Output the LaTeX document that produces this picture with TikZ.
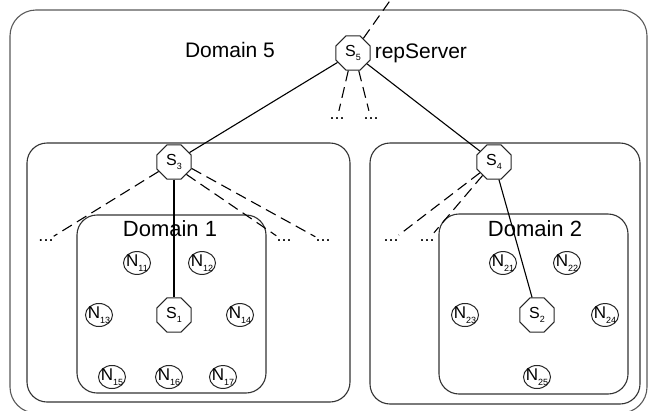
\documentclass[tikz,border=0pt]{standalone}
\usepackage{fontspec}
\setmainfont{Liberation Sans}
\usetikzlibrary{positioning,shapes.geometric}
\newcommand\nsub[1]{\raisebox{-0.5ex}{\fontsize{9}{9}\selectfont #1}}

\begin{document}
\begin{tikzpicture}[
    x=1pt, y=-1pt,
    server/.style={regular polygon, regular polygon sides=8, draw=black!85, fill=white, line width=1pt, minimum size=37pt, inner sep=0pt, font=\fontsize{16}{16}\selectfont},
    peer/.style={ellipse, draw=black!85, fill=white, line width=1pt, minimum width=27pt, minimum height=22pt, inner sep=0pt, font=\fontsize{17}{17}\selectfont},
    region/.style={draw=black!80, line width=1.1pt, rounded corners=20pt},
    title/.style={font=\fontsize{21}{21}\selectfont, inner sep=0pt},
    more/.style={font=\fontsize{18}{18}\selectfont, inner sep=0pt, minimum height=16pt},
    link/.style={draw=black, line width=1.1pt},
    spare/.style={link, dash pattern=on 11pt off 6pt}
]
\useasboundingbox (0,0) rectangle (651,410);
\clip (0,0) rectangle (651,410);

% domains
\draw[region, draw=black!65, rounded corners=26pt] (10,10) rectangle (647,413);
\draw[region] (27,143) rectangle (350,402);
\draw[region] (370,143) rectangle (640,404);
\draw[region] (77,215) rectangle (266,393);
\draw[region] (439,214) rectangle (628,394);

\node[title] (dom5) at (230,50) {Domain 5};
\node[title, font=\fontsize{22}{22}\selectfont] (dom1) at (170,229) {Domain 1};
\node[title, font=\fontsize{22}{22}\selectfont] (dom2) at (535,229) {Domain 2};

% servers
\node[server] (S5) at (353,53) {\makebox[0pt]{S\nsub{5}}};
\node[title, right=4pt of S5] (rep) {repServer};
\node[server] (S3) at (174,162) {\makebox[0pt]{S\nsub{3}}};
\node[server] (S4) at (494,162) {\makebox[0pt]{S\nsub{4}}};
\node[server] (S1) at (174,315) {\makebox[0pt]{S\nsub{1}}};
\node[server] (S2) at (537,315) {\makebox[0pt]{S\nsub{2}}};

% nodes of domain 1
\node[peer] (N11) at (137,263) {\makebox[0pt]{N\nsub{11}}};
\node[peer] (N12) at (202,263) {\makebox[0pt]{N\nsub{12}}};
\node[peer] (N13) at (99,315) {\makebox[0pt]{N\nsub{13}}};
\node[peer] (N14) at (240,315) {\makebox[0pt]{N\nsub{14}}};
\node[peer] (N15) at (112,377) {\makebox[0pt]{N\nsub{15}}};
\node[peer] (N16) at (169,377) {\makebox[0pt]{N\nsub{16}}};
\node[peer] (N17) at (223,377) {\makebox[0pt]{N\nsub{17}}};

% nodes of domain 2
\node[peer] (N21) at (503,263) {\makebox[0pt]{N\nsub{21}}};
\node[peer] (N22) at (567,263) {\makebox[0pt]{N\nsub{22}}};
\node[peer] (N23) at (465,315) {\makebox[0pt]{N\nsub{23}}};
\node[peer] (N24) at (605,315) {\makebox[0pt]{N\nsub{24}}};
\node[peer] (N25) at (537,377) {\makebox[0pt]{N\nsub{25}}};

% other domains, not shown
\node[more] (d5a) at (337,119) {...};
\node[more] (d5b) at (371,119) {...};
\node[more] (d3a) at (46,241) {...};
\node[more] (d3b) at (284,241) {...};
\node[more] (d3c) at (323,241) {...};
\node[more] (d4a) at (391,241) {...};
\node[more] (d4b) at (427,241) {...};
\coordinate (up) at (394,-5);

\draw[link] (S5) -- (S3);
\draw[link] (S5) -- (S4);
\draw[link] (S3) -- (S1);
\draw[link] (S4) -- (S2);

\draw[spare] (S5) -- (up);
\draw[spare] (S5.-105) -- (d5a);
\draw[spare] (S5.-72) -- (d5b);
\draw[spare] (S3) -- (d3a);
\draw[spare] (S3.-45) -- (d3b);
\draw[spare] (S3.-20) -- (d3c);
\draw[spare] (S4) -- (d4a);
\draw[spare] (S4) -- (d4b);
\end{tikzpicture}
\end{document}
